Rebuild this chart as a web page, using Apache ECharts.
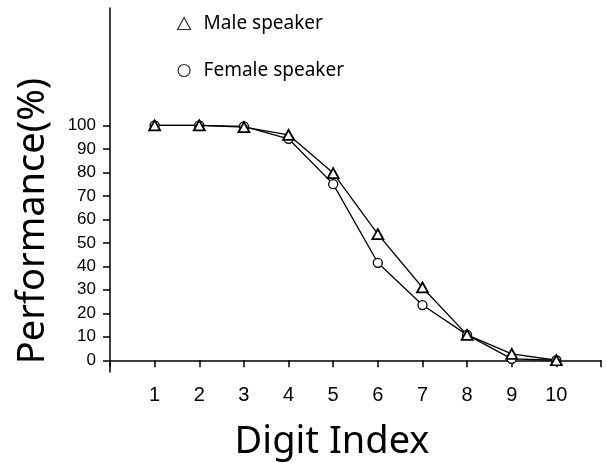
<!DOCTYPE html>
<html>
<head>
<meta charset="utf-8">
<script src="https://cdn.jsdelivr.net/npm/echarts@6/dist/echarts.min.js"></script>
<style>html,body{margin:0;padding:0;background:#fff;}#c{width:606px;height:463px;}</style>
</head>
<body>
<div id="c"></div>
<script>
var digitIndex = [1, 2, 3, 4, 5, 6, 7, 8, 9, 10];
var maleValues = [100, 100, 99.3, 96, 79.7, 53.7, 31, 10.8, 2.7, 0];
var femaleValues = [100, 100, 99.6, 94.3, 75, 41.5, 23.5, 10.8, 0.6, 0];
var xTickLabels = [1, 2, 3, 4, 5, 6, 7, 8, 9, 10];
var yTickLabels = [0, 10, 20, 30, 40, 50, 60, 70, 80, 90, 100];
var seriesNames = ['Male speaker', 'Female speaker'];
var xTitle = 'Digit Index';
var yTitle = 'Performance(%)';

function pairs(xs, ys) { return xs.map(function (x, i) { return [x, ys[i]]; }); }

var chart = echarts.init(document.getElementById('c'), null, {renderer: 'canvas'});
chart.setOption({
  animation: false,
  backgroundColor: '#fff',
  grid: {left: 110, right: 5, top: 8, bottom: 91},
  legend: {
    orient: 'vertical',
    left: 172,
    top: 9,
    itemWidth: 13,
    itemHeight: 12,
    itemGap: 28,
    data: [
      {name: seriesNames[0], icon: 'triangle'},
      {name: seriesNames[1], icon: 'circle'}
    ],
    itemStyle: {color: '#fff', borderColor: '#333', borderWidth: 1.2},
    textStyle: {fontFamily: '"Noto Sans"', fontSize: 19, color: '#000', padding: [0, 0, 0, 8]}
  },
  xAxis: {
    type: 'value', min: 0, max: 11, interval: 1,
    axisLine: {lineStyle: {color: '#000', width: 1.5}},
    axisTick: {length: 7, lineStyle: {color: '#000', width: 1.5}},
    axisLabel: {customValues: xTickLabels, margin: 13, fontFamily: '"Liberation Sans"', fontSize: 20, color: '#000'},
    splitLine: {show: false}
  },
  yAxis: {
    type: 'value', min: -5, max: 150,
    axisLine: {show: true, lineStyle: {color: '#000', width: 1.5}},
    axisTick: {show: true, customValues: yTickLabels, length: 7, lineStyle: {color: '#000', width: 1.5}},
    axisLabel: {customValues: yTickLabels, margin: 14, fontFamily: '"Liberation Sans"', fontSize: 17, color: '#000'},
    splitLine: {show: false}
  },
  graphic: [
    {type: 'text', x: 332, y: 442, style: {text: xTitle, font: '38px "Noto Sans"', fill: '#000', textAlign: 'center', textVerticalAlign: 'middle'}},
    {type: 'text', x: 33, y: 221, rotation: Math.PI / 2, style: {text: yTitle, font: '38px "Noto Sans"', fill: '#000', textAlign: 'center', textVerticalAlign: 'middle'}}
  ],
  series: [
    {
      name: seriesNames[1], type: 'line', data: pairs(digitIndex, femaleValues),
      symbol: 'circle', symbolSize: 9,
      lineStyle: {color: '#000', width: 1.3},
      itemStyle: {color: '#fff', borderColor: '#000', borderWidth: 1.3}
    },
    {
      name: seriesNames[0], type: 'line', data: pairs(digitIndex, maleValues),
      symbol: 'triangle', symbolSize: [11, 10],
      lineStyle: {color: '#000', width: 1.3},
      itemStyle: {color: '#fff', borderColor: '#000', borderWidth: 1.8}
    }
  ]
});
</script>
</body>
</html>
